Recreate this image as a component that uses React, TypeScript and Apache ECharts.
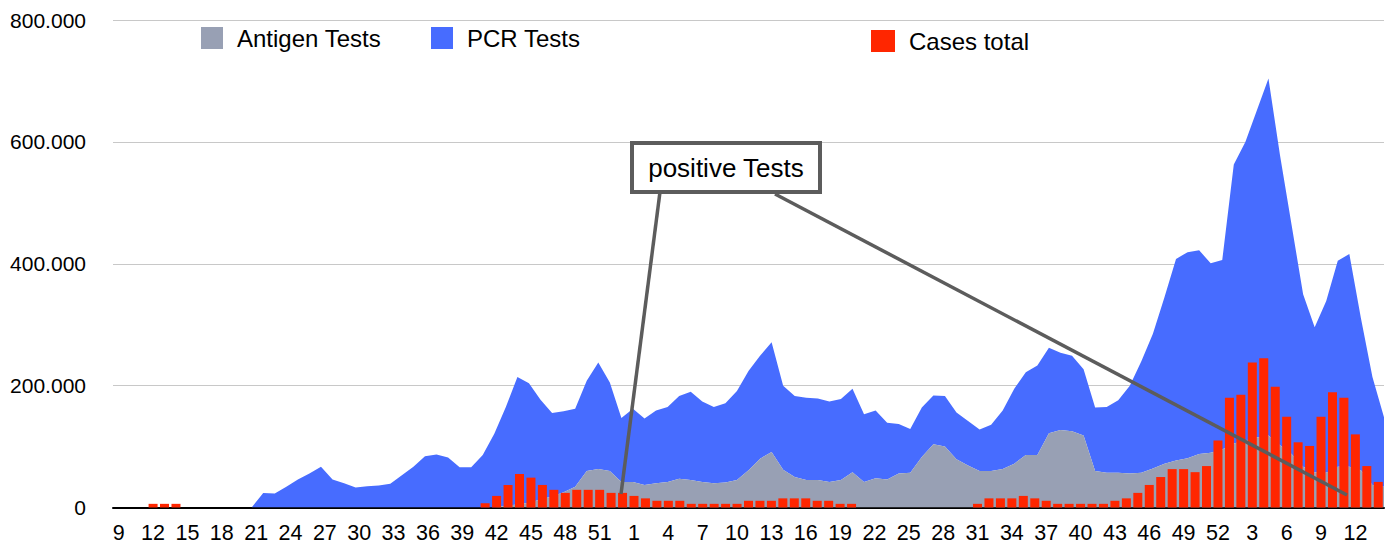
import React, { useEffect, useRef } from 'react';
import * as echarts from 'echarts';

// ISO calendar weeks shown on the x axis
const weeks2020 = [9, 10, 11, 12, 13, 14, 15, 16, 17, 18, 19, 20, 21, 22, 23, 24, 25, 26, 27, 28, 29, 30, 31, 32, 33, 34, 35, 36, 37, 38, 39, 40, 41, 42, 43, 44, 45, 46, 47, 48, 49, 50, 51, 52, 53];
const weeks2021 = [1, 2, 3, 4, 5, 6, 7, 8, 9, 10, 11, 12, 13, 14, 15, 16, 17, 18, 19, 20, 21, 22, 23, 24, 25, 26, 27, 28, 29, 30, 31, 32, 33, 34, 35, 36, 37, 38, 39, 40, 41, 42, 43, 44, 45, 46, 47, 48, 49, 50, 51, 52];
const weeks2022 = [1, 2, 3, 4, 5, 6, 7, 8, 9, 10, 11, 12, 13, 14];

// values in thousands
const antigen2020 = [0, 0, 0, 0, 0, 0, 0, 0, 0, 0, 0, 0, 0, 0, 0, 0, 0, 0, 0, 0, 0, 0, 0, 0, 0, 0, 0, 0, 0, 0, 0, 0, 0, 0, 3, 5, 8, 13, 18, 25, 34, 60, 63, 60, 42];
const antigen2021 = [42, 37, 40, 42, 47, 45, 42, 40, 41, 45, 61, 80, 91, 62, 50, 45, 45, 42, 45, 58, 42, 48, 46, 56, 57, 83, 104, 100, 79, 69, 60, 60, 63, 72, 86, 86, 122, 127, 125, 118, 60, 57, 57, 56, 57, 64, 72, 77, 81, 88, 90, 95];
const antigen2022 = [105, 110, 115, 118, 102, 88, 67, 58, 57, 67, 67, 61, 37, 34];

const pcr2020 = [0, 0, 0, 0, 0, 0, 0, 0, 0, 0, 0, 0, 0, 24, 23, 34, 46, 56, 67, 46, 40, 33, 35, 36, 39, 53, 67, 84, 87, 82, 66, 66, 86, 121, 162, 209, 196, 164, 137, 133, 128, 148, 175, 145, 105];
const pcr2021 = [120, 109, 119, 123, 136, 145, 132, 125, 130, 146, 163, 169, 180, 138, 133, 135, 134, 132, 133, 137, 111, 111, 93, 81, 72, 81, 80, 83, 77, 73, 68, 76, 96, 123, 136, 147, 140, 127, 124, 109, 104, 108, 119, 144, 183, 221, 273, 331, 338, 334, 311, 311];
const pcr2022 = [458, 490, 537, 586, 476, 376, 283, 238, 282, 338, 349, 250, 177, 114];

const cases2020 = [0, 0, 0, 6, 6, 6, 0, 0, 0, 0, 0, 0, 0, 0, 0, 0, 0, 0, 0, 0, 0, 0, 0, 0, 0, 0, 0, 0, 0, 0, 0, 0, 7, 19, 37, 55, 49, 37, 29, 24, 29, 29, 29, 24, 24];
const cases2021 = [19, 15, 11, 11, 11, 6, 6, 6, 6, 6, 11, 11, 11, 15, 15, 15, 11, 11, 6, 6, 0, 0, 0, 0, 0, 0, 0, 0, 0, 0, 6, 15, 15, 15, 19, 15, 11, 6, 6, 6, 6, 6, 11, 15, 24, 37, 50, 63, 63, 58, 68, 110];
const cases2022 = [180, 185, 238, 245, 198, 149, 107, 101, 149, 189, 180, 120, 68, 42];

const categories = [
  ...weeks2020.map((w) => `2020-W${w}`),
  ...weeks2021.map((w) => `2021-W${w}`),
  ...weeks2022.map((w) => `2022-W${w}`),
];
const antigenTests = [...antigen2020, ...antigen2021, ...antigen2022];
const pcrTests = [...pcr2020, ...pcr2021, ...pcr2022];
const casesTotal = [...cases2020, ...cases2021, ...cases2022];

const FONT = 'Helvetica, Arial, "Liberation Sans", sans-serif';
const GREY = '#98a0b4';
const BLUE = '#476cff';
const RED = '#ff2600';
const DARK = '#5c5c5c';

export default function App() {
  const ref = useRef<HTMLDivElement>(null);

  useEffect(() => {
    const chart = echarts.init(ref.current as HTMLDivElement, null, { renderer: 'svg' });
    const legendBase = {
      padding: 0,
      itemWidth: 22,
      itemHeight: 22,
      icon: 'rect',
      selectedMode: false,
      textStyle: { fontSize: 24, color: '#000', fontFamily: FONT, padding: [0, 0, 0, 9] },
    };
    chart.setOption({
      animation: false,
      backgroundColor: '#fff',
      textStyle: { fontFamily: FONT },
      grid: { left: 113, right: 8, top: 20, bottom: 42.5, containLabel: false },
      legend: [
        { ...legendBase, data: ['Antigen Tests'], left: 201, top: 26 },
        { ...legendBase, data: ['PCR Tests'], left: 431, top: 26 },
        { ...legendBase, data: ['Cases total'], left: 871, top: 29, itemWidth: 24 },
      ],
      xAxis: [
        {
          type: 'category',
          data: categories,
          boundaryGap: true,
          axisTick: { show: false },
          axisLine: { lineStyle: { color: '#000', width: 2 } },
          axisLabel: {
            interval: 2,
            formatter: (c: string) => c.split('W')[1],
            fontSize: 21.5,
            color: '#000',
            margin: 14,
            fontFamily: FONT,
          },
        },
        {
          type: 'category',
          data: categories,
          boundaryGap: false,
          show: false,
        },
      ],
      yAxis: {
        type: 'value',
        min: 0,
        max: 800,
        interval: 200,
        axisLine: { show: false },
        axisTick: { show: false },
        splitLine: { lineStyle: { color: '#c8c8c8', width: 1 } },
        axisLabel: {
          formatter: (v: number) => (v === 0 ? '0' : `${v}.000`),
          fontSize: 21,
          color: '#000',
          margin: 27,
          fontFamily: FONT,
        },
      },
      series: [
        {
          name: 'Antigen Tests',
          type: 'line',
          xAxisIndex: 1,
          stack: 'tests',
          data: antigenTests,
          symbol: 'none',
          lineStyle: { width: 0 },
          itemStyle: { color: GREY },
          areaStyle: { color: GREY, opacity: 1 },
          z: 2,
        },
        {
          name: 'PCR Tests',
          type: 'line',
          xAxisIndex: 1,
          stack: 'tests',
          data: pcrTests,
          symbol: 'none',
          lineStyle: { width: 0 },
          itemStyle: { color: BLUE },
          areaStyle: { color: BLUE, opacity: 1 },
          z: 1,
        },
        {
          name: 'Cases total',
          type: 'bar',
          xAxisIndex: 0,
          data: casesTotal,
          barWidth: 9,
          itemStyle: { color: RED },
          z: 3,
        },
      ],
      graphic: [
        {
          type: 'line',
          z: 100,
          shape: { x1: 660, y1: 192, x2: 621, y2: 494 },
          style: { stroke: DARK, lineWidth: 3.5 },
        },
        {
          type: 'line',
          z: 100,
          shape: { x1: 775, y1: 194, x2: 1347, y2: 495 },
          style: { stroke: DARK, lineWidth: 3.5 },
        },
        {
          type: 'rect',
          z: 101,
          shape: { x: 632, y: 143, width: 188, height: 49 },
          style: { fill: '#fff', stroke: DARK, lineWidth: 4 },
        },
        {
          type: 'text',
          z: 102,
          style: {
            text: 'positive Tests',
            x: 726,
            y: 168,
            fill: '#000',
            font: `26px ${FONT}`,
            align: 'center',
            verticalAlign: 'middle',
            textAlign: 'center',
            textVerticalAlign: 'middle',
          },
        },
      ],
    });
    return () => chart.dispose();
  }, []);

  return (
    <div
      ref={ref}
      style={{ position: 'absolute', left: 0, top: 0, width: 1392, height: 550, background: '#fff' }}
    />
  );
}
